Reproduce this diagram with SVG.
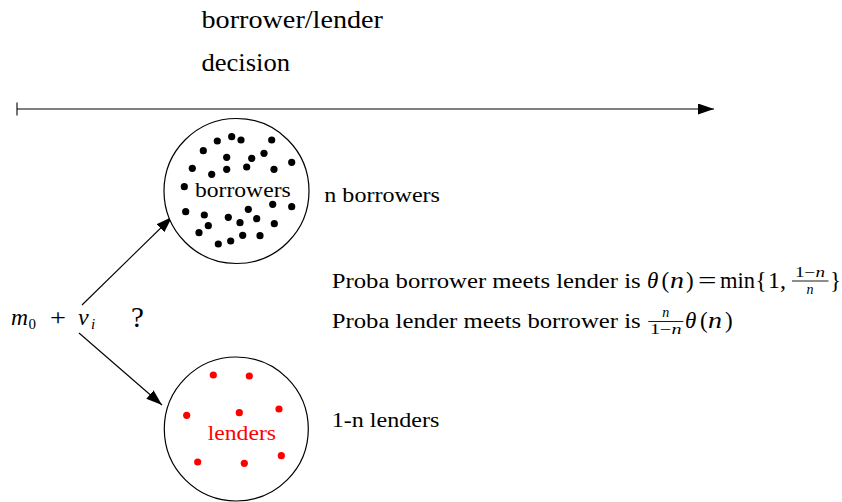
<svg xmlns="http://www.w3.org/2000/svg" width="842" height="502" viewBox="0 0 842 502">
<style>
text{font-family:'Liberation Serif','DejaVu Serif',serif;fill:#000}
.t{font-size:22px}
.h{font-size:25px}
.mt{font-size:23px}
.it{font-style:italic}
.m{font-size:24px}
.q{font-size:29px}
.s{font-size:15px}
.fr{font-size:14px}
.red{fill:#ff0000}
.ring{fill:#fff;stroke:#000;stroke-width:1.2}
.bd{fill:#000}
.ld{fill:#ff0000}
.ln{stroke:#000;stroke-width:1.1;fill:none}
.bar{stroke:#000;stroke-width:0.9}
</style>
<defs>
<marker id="ah" markerUnits="userSpaceOnUse" markerWidth="17" markerHeight="12" refX="16" refY="5.5" orient="auto">
<path d="M0,0 L16,5.5 L0,11 Z" fill="#000"/>
</marker>
</defs>
<rect width="842" height="502" fill="#fff"/>

<g id="connectors">
<line class="ln" x1="17" y1="109" x2="714" y2="109" marker-end="url(#ah)"/>
<line class="ln" x1="17" y1="102.5" x2="17" y2="115.5"/>
<line class="ln" x1="82" y1="305" x2="172" y2="217" marker-end="url(#ah)"/>
<line class="ln" x1="79" y1="333" x2="162" y2="405" marker-end="url(#ah)"/>
</g>

<g id="decision-label">
<text class="h" x="201.5" y="28.3" textLength="181.5" lengthAdjust="spacingAndGlyphs">borrower/lender</text>
<text class="h" x="201.5" y="70.7" textLength="88.5" lengthAdjust="spacingAndGlyphs">decision</text>
</g>

<g id="borrowers">
<circle class="ring" cx="236.5" cy="191" r="72.5"/>
<g class="bd">
<circle cx="231.7" cy="136.7" r="3.6"/><circle cx="217.3" cy="141" r="3.6"/><circle cx="241" cy="140" r="3.6"/>
<circle cx="271.7" cy="140" r="3.6"/><circle cx="203.3" cy="150.7" r="3.6"/><circle cx="264" cy="153.3" r="3.6"/>
<circle cx="226.7" cy="157.3" r="3.6"/><circle cx="251.7" cy="158.3" r="3.6"/><circle cx="291.7" cy="162.3" r="3.6"/>
<circle cx="192.3" cy="168.3" r="3.6"/><circle cx="226.7" cy="169.3" r="3.6"/><circle cx="246.7" cy="167" r="3.6"/>
<circle cx="211.7" cy="174.3" r="3.6"/><circle cx="274" cy="169.3" r="3.6"/><circle cx="184.3" cy="186.7" r="3.6"/>
<circle cx="185.7" cy="211.7" r="3.6"/><circle cx="272.7" cy="204.3" r="3.6"/><circle cx="291.7" cy="206.7" r="3.6"/>
<circle cx="248.3" cy="209.3" r="3.6"/><circle cx="204.3" cy="215" r="3.6"/><circle cx="228.3" cy="217.3" r="3.6"/>
<circle cx="240" cy="222.7" r="3.6"/><circle cx="256.7" cy="218.7" r="3.6"/><circle cx="274.3" cy="223.7" r="3.6"/>
<circle cx="208.3" cy="225.7" r="3.6"/><circle cx="199" cy="232.7" r="3.6"/><circle cx="242.7" cy="235.3" r="3.6"/>
<circle cx="260" cy="235.7" r="3.6"/><circle cx="230.7" cy="241" r="3.6"/><circle cx="218.3" cy="244" r="3.6"/>
</g>
<text class="t" x="195" y="196.7" textLength="95.7" lengthAdjust="spacingAndGlyphs">borrowers</text>
</g>

<g id="lenders">
<circle class="ring" cx="236.3" cy="429" r="72"/>
<g class="ld">
<circle cx="213.3" cy="375" r="3.6"/><circle cx="249.3" cy="376" r="3.6"/><circle cx="279" cy="409" r="3.6"/>
<circle cx="239.3" cy="412.7" r="3.6"/><circle cx="186.7" cy="415.3" r="3.6"/><circle cx="281.3" cy="455.7" r="3.6"/>
<circle cx="197.7" cy="462" r="3.6"/><circle cx="244.3" cy="463.3" r="3.6"/>
</g>
<text class="t red" x="207.7" y="440" textLength="68.3" lengthAdjust="spacingAndGlyphs">lenders</text>
</g>

<g id="n-borrowers-label">
<text class="t" x="324.3" y="201.7" textLength="115.7" lengthAdjust="spacingAndGlyphs">n borrowers</text>
</g>
<g id="lenders-label">
<text class="t" x="331.7" y="426.7" textLength="107.6" lengthAdjust="spacingAndGlyphs">1-n lenders</text>
</g>

<g id="start-label">
<text class="m it" x="11" y="325" textLength="17" lengthAdjust="spacingAndGlyphs">m</text>
<text class="s" x="28.5" y="329">0</text>
<text class="m" x="50" y="325" textLength="16" lengthAdjust="spacingAndGlyphs">+</text>
<text class="m it" x="78" y="325">v</text>
<text class="s it" x="91" y="329">i</text>
<text class="q" x="131" y="327">?</text>
</g>

<g id="proba-lines">
<text class="t" x="331.7" y="287.5" textLength="309" lengthAdjust="spacingAndGlyphs">Proba borrower meets lender is</text>
<text class="mt it" x="647" y="287.5">θ</text>
<text class="mt" x="661.5" y="287.5">(</text>
<text class="mt it" x="670" y="287.5" textLength="14" lengthAdjust="spacingAndGlyphs">n</text>
<text class="mt" x="686" y="287.5">)</text>
<text class="mt" x="698" y="287.5" textLength="18.5" lengthAdjust="spacingAndGlyphs">=</text>
<text class="mt" x="720" y="287.5" textLength="35" lengthAdjust="spacingAndGlyphs">min</text>
<text class="mt" x="755.5" y="287.5">{</text>
<text class="mt" x="768" y="287.5" textLength="18" lengthAdjust="spacingAndGlyphs">1,</text>
<text class="fr" x="795" y="277" textLength="30" lengthAdjust="spacingAndGlyphs">1−<tspan class="it">n</tspan></text>
<line class="bar" x1="792" y1="281" x2="828.5" y2="281"/>
<text class="fr it" x="810" y="294" text-anchor="middle">n</text>
<text class="mt" x="830" y="287.5">}</text>

<text class="t" x="331.7" y="327.5" textLength="309" lengthAdjust="spacingAndGlyphs">Proba lender meets borrower is</text>
<text class="fr it" x="665.8" y="316.5" text-anchor="middle">n</text>
<line class="bar" x1="648.3" y1="321.5" x2="683.3" y2="321.5"/>
<text class="fr" x="650" y="333.5" textLength="31.5" lengthAdjust="spacingAndGlyphs">1−<tspan class="it">n</tspan></text>
<text class="mt it" x="685" y="327.5">θ</text>
<text class="mt" x="700" y="327.5">(</text>
<text class="mt it" x="708" y="327.5" textLength="14" lengthAdjust="spacingAndGlyphs">n</text>
<text class="mt" x="725" y="327.5">)</text>
</g>
</svg>
